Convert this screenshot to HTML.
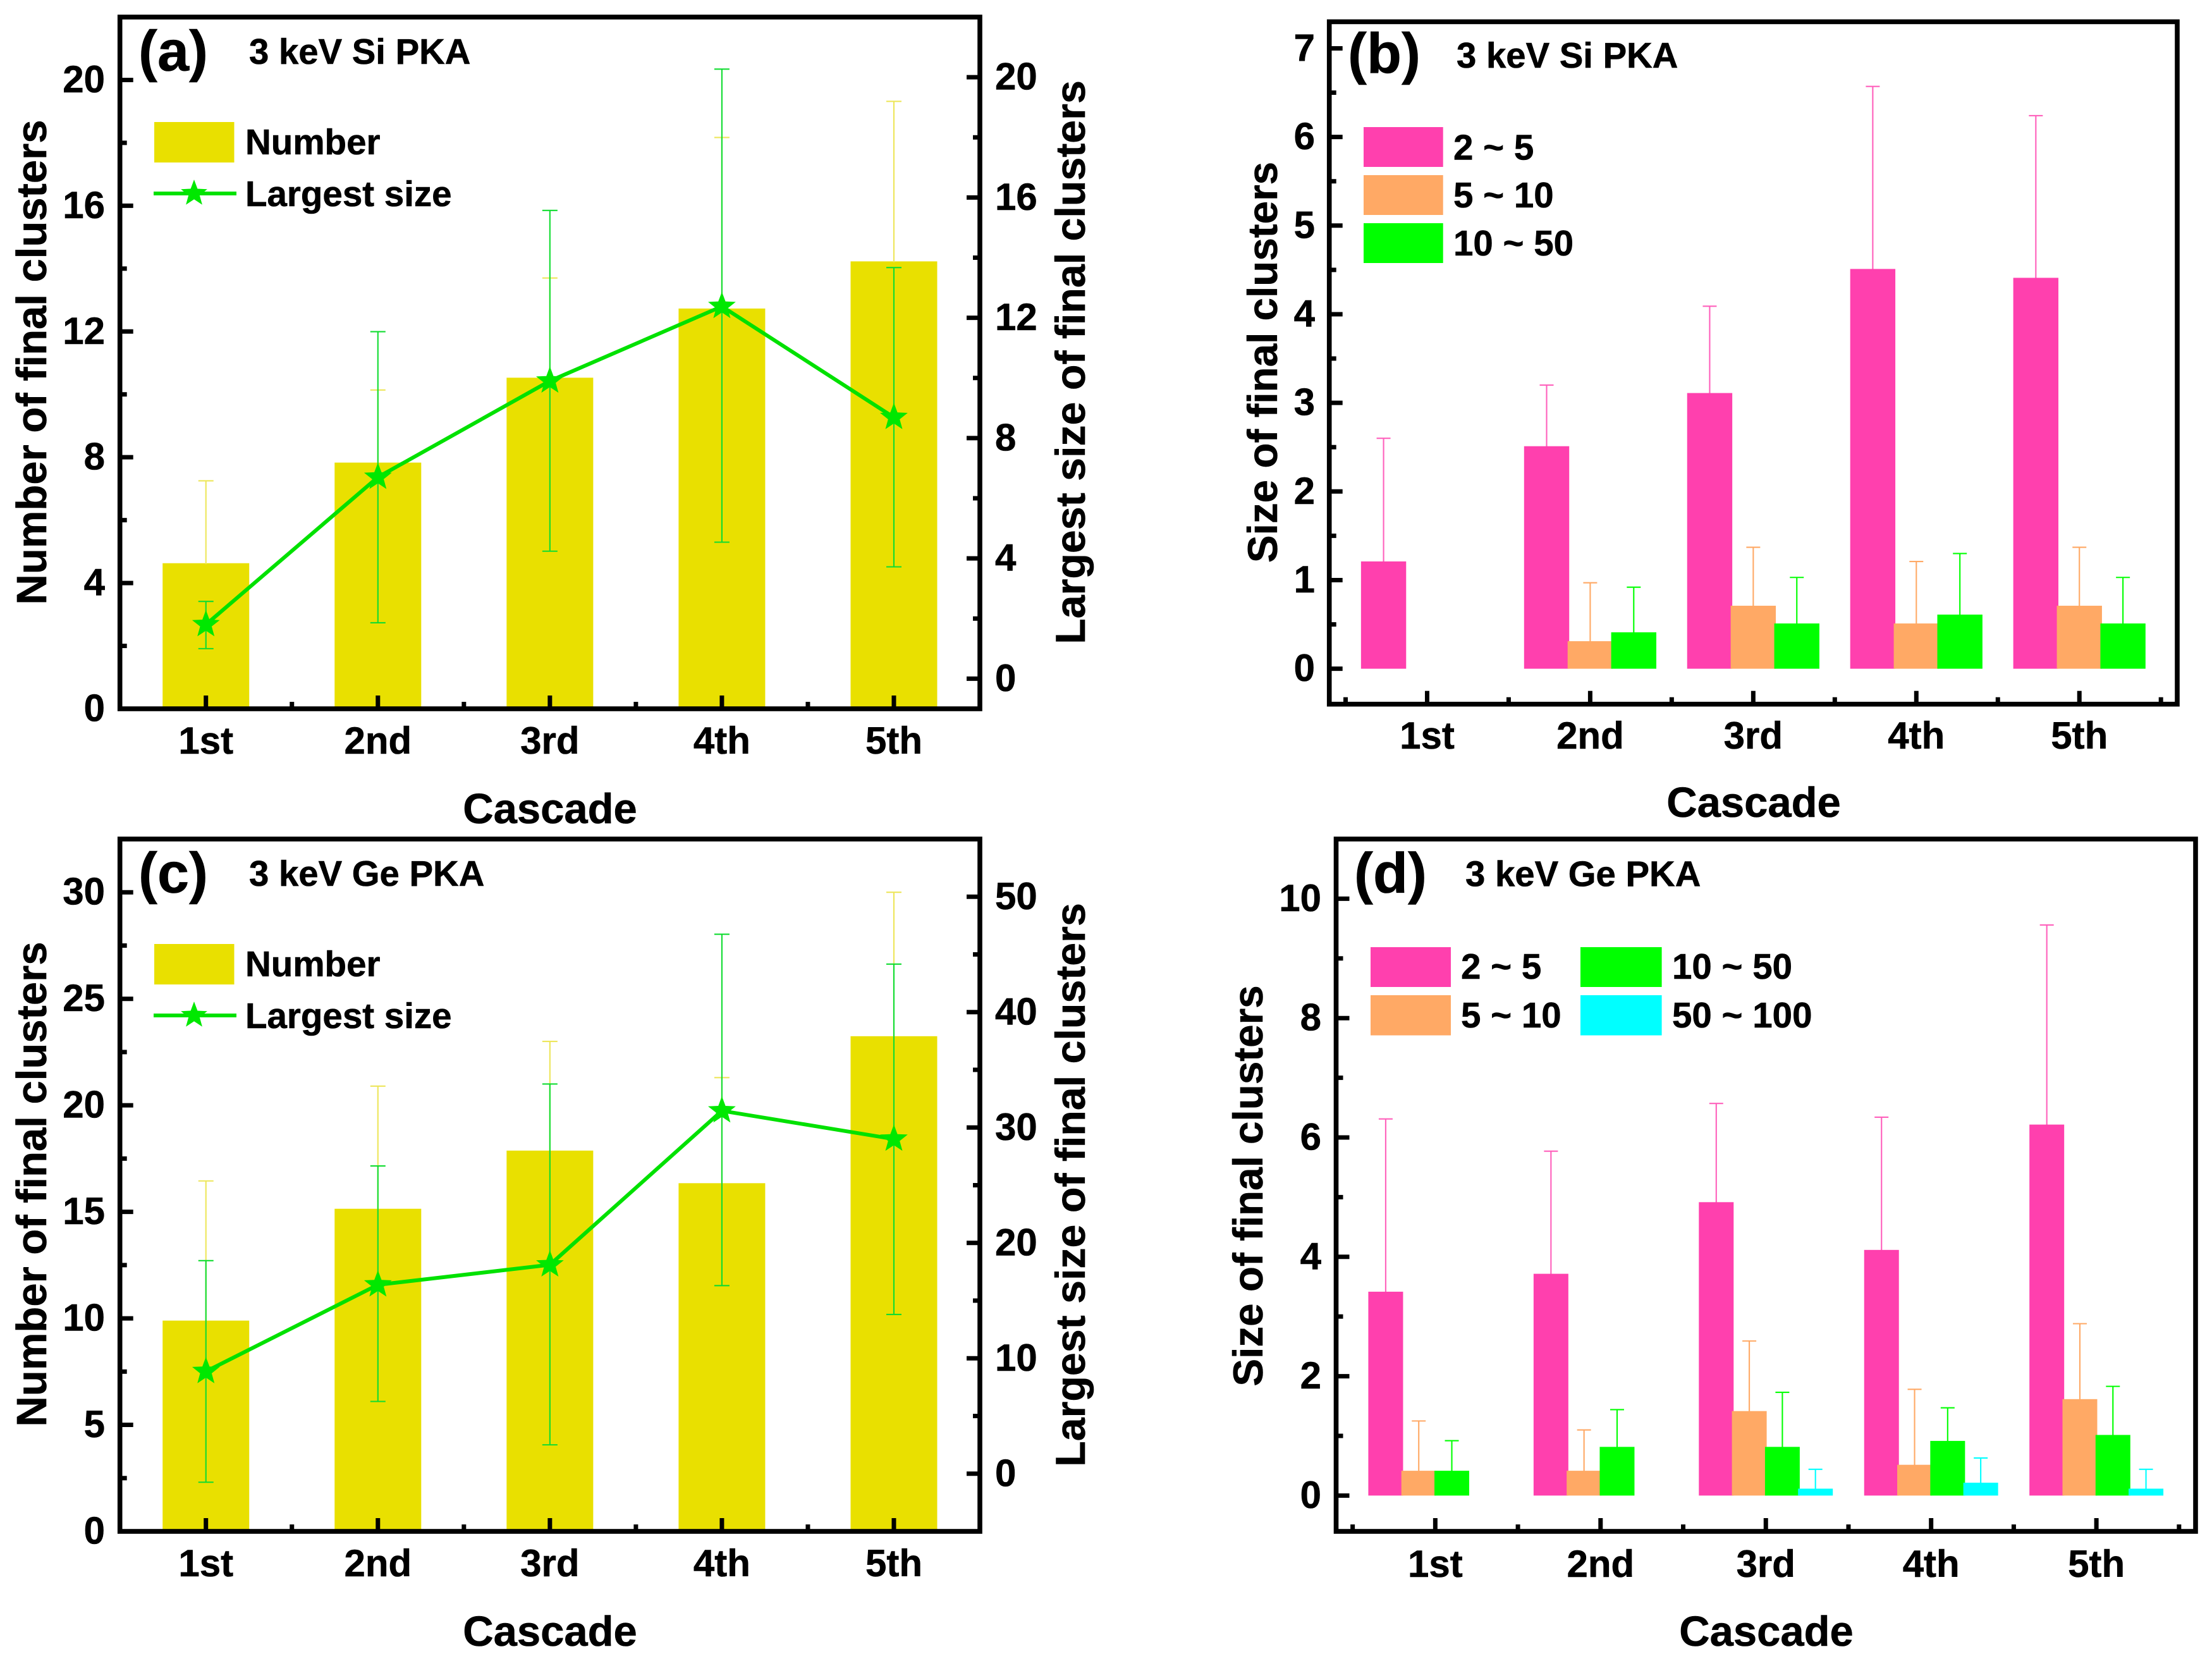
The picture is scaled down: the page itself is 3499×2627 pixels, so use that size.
<!DOCTYPE html>
<html lang="en">
<head>
<meta charset="utf-8">
<title>Final cluster statistics for 3 keV Si and Ge PKA cascades</title>
<style>
  html, body { margin: 0; padding: 0; background: #ffffff; }
  svg { display: block; }
  text { font-family: "Liberation Sans", Arial, sans-serif; font-weight: bold; fill: #000000; stroke: #000000; stroke-width: 0.6px; }
  .tick { font-size: 60px; }
  .axt { font-size: 67px; }
  .axr { font-size: 66.3px; }
  .axs { font-size: 65.6px; }
  .leg { font-size: 56.5px; }
  .pl { font-size: 90px; }
  .sub { font-size: 56.3px; }
</style>
</head>
<body>
<svg id="fig" xmlns="http://www.w3.org/2000/svg" width="3499" height="2627" viewBox="0 0 3499 2627">
  <rect x="0" y="0" width="3499" height="2627" fill="#ffffff"/>

  <g id="panel-a">
    <g id="a-marks"></g>
    <rect x="189.7" y="27" width="1360.3" height="1094" fill="none" stroke="#000" stroke-width="7.6"/>
    <text class="pl" x="219" y="111.5">(a)</text>
    <text class="sub" x="394" y="101">3 keV Si PKA</text>
    <text class="axt" text-anchor="middle" transform="translate(73 573) rotate(-90)">Number of final clusters</text>
    <text class="axr" text-anchor="middle" transform="translate(1716 573) rotate(-90)">Largest size of final clusters</text>
    <text class="axt" text-anchor="middle" x="870" y="1302">Cascade</text>
    <rect x="244" y="193" width="126.5" height="64" fill="#E9E000"/>
    <text class="leg" x="388" y="244">Number</text>
    <line x1="243" y1="306" x2="374" y2="306" stroke="#00E100" stroke-width="6"/>
    <text class="leg" x="388" y="326">Largest size</text>
  </g>

  <g id="panel-b">
    <g id="b-marks"></g>
    <rect x="2102.7" y="34.4" width="1341.3" height="1079.3" fill="none" stroke="#000" stroke-width="7.6"/>
    <text class="pl" x="2132" y="115.5">(b)</text>
    <text class="sub" x="2304" y="107">3 keV Si PKA</text>
    <text class="axs" text-anchor="middle" transform="translate(2020 573) rotate(-90)">Size of final clusters</text>
    <text class="axt" text-anchor="middle" x="2774" y="1292">Cascade</text>
    <rect x="2157" y="201" width="125.7" height="63" fill="#FF40AE"/>
    <text class="leg" x="2299" y="252.5">2 ~ 5</text>
    <rect x="2157" y="277" width="125.7" height="63" fill="#FFA965"/>
    <text class="leg" x="2299" y="328">5 ~ 10</text>
    <rect x="2157" y="353" width="125.7" height="63" fill="#00FF00"/>
    <text class="leg" x="2299" y="404">10 ~ 50</text>
  </g>

  <g id="panel-c">
    <g id="c-marks"></g>
    <rect x="189.7" y="1327" width="1360.3" height="1095" fill="none" stroke="#000" stroke-width="7.6"/>
    <text class="pl" x="219" y="1411.5">(c)</text>
    <text class="sub" x="394" y="1401">3 keV Ge PKA</text>
    <text class="axt" text-anchor="middle" transform="translate(73 1873) rotate(-90)">Number of final clusters</text>
    <text class="axr" text-anchor="middle" transform="translate(1716 1874) rotate(-90)">Largest size of final clusters</text>
    <text class="axt" text-anchor="middle" x="870" y="2603">Cascade</text>
    <rect x="244" y="1493" width="126.5" height="64" fill="#E9E000"/>
    <text class="leg" x="388" y="1544">Number</text>
    <line x1="243" y1="1606" x2="374" y2="1606" stroke="#00E100" stroke-width="6"/>
    <text class="leg" x="388" y="1626">Largest size</text>
  </g>

  <g id="panel-d">
    <g id="d-marks"></g>
    <rect x="2113.5" y="1327" width="1359.5" height="1095" fill="none" stroke="#000" stroke-width="7.6"/>
    <text class="pl" x="2142" y="1412">(d)</text>
    <text class="sub" x="2318" y="1401.5">3 keV Ge PKA</text>
    <text class="axs" text-anchor="middle" transform="translate(1997 1875.5) rotate(-90)">Size of final clusters</text>
    <text class="axt" text-anchor="middle" x="2794" y="2603">Cascade</text>
    <rect x="2168" y="1498" width="127" height="63" fill="#FF40AE"/>
    <text class="leg" x="2311" y="1548">2 ~ 5</text>
    <rect x="2168" y="1574" width="127" height="63.5" fill="#FFA965"/>
    <text class="leg" x="2311" y="1625">5 ~ 10</text>
    <rect x="2500" y="1498" width="128.6" height="63" fill="#00FF00"/>
    <text class="leg" x="2645" y="1548">10 ~ 50</text>
    <rect x="2500" y="1574" width="128.6" height="63.5" fill="#00FFFF"/>
    <text class="leg" x="2645" y="1625">50 ~ 100</text>
  </g>
</svg>

<script>
// ---- data ----
const categories = ['1st', '2nd', '3rd', '4th', '5th'];

// Panel (a)
const aNumber = [4.6, 7.8, 10.5, 12.7, 14.2];
const aNumberErrTop = [7.25, 10.14, 13.7, 18.17, 19.32];
const aLargest = [1.8, 6.7, 9.9, 12.38, 8.69];
const aLargestHi = [2.57, 11.54, 15.57, 20.27, 13.67];
const aLargestLo = [1.0, 1.86, 4.24, 4.54, 3.72];
const aLeftTicks = [0, 4, 8, 12, 16, 20];
const aLeftMinor = [2, 6, 10, 14, 18];
const aRightTicks = [0, 4, 8, 12, 16, 20];
const aRightMinor = [2, 6, 10, 14, 18];

// Panel (b)
const bPink = [1.2, 2.5, 3.1, 4.5, 4.4];
const bPinkErr = [2.6, 3.2, 4.09, 6.57, 6.24];
const bOrange = [0, 0.3, 0.7, 0.5, 0.7];
const bOrangeErr = [0, 0.97, 1.37, 1.21, 1.37];
const bGreen = [0, 0.4, 0.5, 0.6, 0.5];
const bGreenErr = [0, 0.92, 1.03, 1.3, 1.03];
const bTicks = [0, 1, 2, 3, 4, 5, 6, 7];
const bMinor = [0.5, 1.5, 2.5, 3.5, 4.5, 5.5, 6.5];

// Panel (c)
const cNumber = [9.85, 15.1, 17.83, 16.3, 23.2];
const cNumberErrTop = [16.45, 20.9, 23, 21.3, 30];
const cLargest = [8.86, 16.37, 18.1, 31.45, 29];
const cLargestHi = [18.46, 26.67, 33.77, 46.75, 44.16];
const cLargestLo = [-0.74, 6.26, 2.5, 16.3, 13.8];
const cLeftTicks = [0, 5, 10, 15, 20, 25, 30];
const cLeftMinor = [2.5, 7.5, 12.5, 17.5, 22.5, 27.5];
const cRightTicks = [0, 10, 20, 30, 40, 50];
const cRightMinor = [5, 15, 25, 35, 45];

// Panel (d)
const dPink = [3.4, 3.7, 4.9, 4.1, 6.2];
const dPinkErr = [6.31, 5.77, 6.57, 6.34, 9.56];
const dOrange = [0.4, 0.4, 1.4, 0.5, 1.6];
const dOrangeErr = [1.25, 1.1, 2.59, 1.78, 2.88];
const dGreen = [0.4, 0.8, 0.8, 0.9, 1.0];
const dGreenErr = [0.92, 1.44, 1.73, 1.47, 1.83];
const dCyan = [0, 0, 0.1, 0.2, 0.1];
const dCyanErr = [0, 0, 0.44, 0.63, 0.44];
const dTicks = [0, 2, 4, 6, 8, 10];
const dMinor = [1, 3, 5, 7, 9];

// ---- helpers ----
const NS = 'http://www.w3.org/2000/svg';
const YELLOW = '#E9E000', LINE_GREEN = '#00E100', STAR_GREEN = '#00E800';
const PINK = '#FF40AE', ORANGE = '#FFA965', GREEN = '#00FF00', CYAN = '#00FFFF';
const ERR_W = 2.1;
const BAR_TOP_BLEED = 1.5;
const LABEL_DROP = 19.5;

function linear(d0, d1, p0, p1) {
  return function (v) { return p0 + (v - d0) * (p1 - p0) / (d1 - d0); };
}
function mk(parent, tag, props, name) {
  const el = document.createElementNS(NS, tag);
  for (const k in props) el.setAttribute(k, props[k]);
  
  
  parent.appendChild(el);
  return el;
}
function rule(parent, x1, y1, x2, y2, color, w, name) {
  return mk(parent, 'line', { x1: x1, y1: y1, x2: x2, y2: y2, stroke: color, 'stroke-width': w }, name);
}
function label(parent, x, y, str, anchor, name) {
  const t = mk(parent, 'text', { x: x, y: y, 'text-anchor': anchor, class: 'tick' }, name);
  t.textContent = str;
  return t;
}
function star(parent, cx, cy, r, name) {
  const pts = [];
  for (let i = 0; i < 10; i++) {
    const rad = i % 2 === 0 ? r : r * 0.42;
    const a = -Math.PI / 2 + i * Math.PI / 5;
    pts.push((cx + rad * Math.cos(a)).toFixed(1) + ',' + (cy + rad * Math.sin(a)).toFixed(1));
  }
  return mk(parent, 'polygon', { points: pts.join(' '), fill: STAR_GREEN }, name);
}
function xTicks(g, x, geo, minorVals, key) {
  categories.forEach(function (c, i) {
    rule(g, x(i + 1), geo.bottom, x(i + 1), geo.bottom - 21, '#000', 7, key + '-x-tick-' + c);
    label(g, x(i + 1), geo.tickBase, c, 'middle', key + '-x-tick-label-' + c);
  });
  minorVals.forEach(function (v) {
    rule(g, x(v), geo.bottom, x(v), geo.bottom - 11, '#000', 7, key + '-x-minor-tick');
  });
}
function leftTicks(g, y, geo, major, minor, key) {
  major.forEach(function (v) {
    rule(g, geo.left, y(v), geo.left + 21, y(v), '#000', 7, key + '-y-tick-' + v);
    label(g, geo.labelRight, y(v) + LABEL_DROP, String(v), 'end', key + '-y-tick-label-' + v);
  });
  minor.forEach(function (v) {
    rule(g, geo.left, y(v), geo.left + 11, y(v), '#000', 7, key + '-y-minor-tick');
  });
}
function rightTicks(g, y, geo, major, minor, key) {
  major.forEach(function (v) {
    rule(g, geo.right, y(v), geo.right - 21, y(v), '#000', 7, key + '-right-tick-' + v);
    label(g, geo.right + 24, y(v) + LABEL_DROP, String(v), 'start', key + '-right-tick-label-' + v);
  });
  minor.forEach(function (v) {
    rule(g, geo.right, y(v), geo.right - 11, y(v), '#000', 7, key + '-right-minor-tick');
  });
}
function cap(g, cx, yy, half, color, w, name) {
  rule(g, cx - half, yy, cx + half, yy, color, w, name);
}

// Bars + line chart panels (a, c)
function comboPanel(key, geo, yL, yR, nums, numTop, line, hi, lo, lTicks, lMinor, rTicks, rMinor) {
  const g = document.getElementById(key + '-marks');
  const x = linear(0.5, 5.5, geo.left, geo.right);
  const barW = 137;
  nums.forEach(function (v, i) {
    mk(g, 'rect', { x: x(i + 1) - barW / 2, y: yL(v) - BAR_TOP_BLEED, width: barW, height: yL(0) - yL(v) + BAR_TOP_BLEED, fill: YELLOW }, key + '-bar-' + categories[i]);
  });
  numTop.forEach(function (v, i) {
    rule(g, x(i + 1), yL(nums[i]), x(i + 1), yL(v), '#EDE65A', ERR_W, key + '-bar-error-' + categories[i]);
    cap(g, x(i + 1), yL(v), 12, '#EDE65A', ERR_W, key + '-bar-error-cap-' + categories[i]);
  });
  xTicks(g, x, geo, [1.5, 2.5, 3.5, 4.5], key);
  leftTicks(g, yL, geo, lTicks, lMinor, key);
  rightTicks(g, yR, geo, rTicks, rMinor, key);
  line.forEach(function (v, i) {
    rule(g, x(i + 1), yR(hi[i]), x(i + 1), yR(lo[i]), '#10DC30', ERR_W, key + '-line-error-' + categories[i]);
    cap(g, x(i + 1), yR(hi[i]), 12, '#10DC30', ERR_W, key + '-line-error-cap-high-' + categories[i]);
    cap(g, x(i + 1), yR(lo[i]), 12, '#10DC30', ERR_W, key + '-line-error-cap-low-' + categories[i]);
  });
  const pts = line.map(function (v, i) { return x(i + 1).toFixed(1) + ',' + yR(v).toFixed(1); }).join(' ');
  mk(g, 'polyline', { points: pts, fill: 'none', stroke: LINE_GREEN, 'stroke-width': 6 }, key + '-largest-size-line');
  line.forEach(function (v, i) {
    star(g, x(i + 1), yR(v), 23, key + '-largest-size-point-' + categories[i]);
  });
}

// Grouped bar panels (b, d)
function groupPanel(key, geo, y, series, spacing, barW, ticks, minor) {
  const g = document.getElementById(key + '-marks');
  const x = linear(0.4, 5.6, geo.left, geo.right);
  const n = series.length;
  series.forEach(function (s, si) {
    s.vals.forEach(function (v, i) {
      if (v === 0) return;
      const cx = x(i + 1) + (si - (n - 1) / 2) * spacing;
      rule(g, cx, y(v), cx, y(s.errs[i]), s.err, ERR_W, key + '-error-' + s.name + '-' + categories[i]);
      cap(g, cx, y(s.errs[i]), 11, s.err, ERR_W, key + '-error-cap-' + s.name + '-' + categories[i]);
    });
  });
  series.forEach(function (s, si) {
    s.vals.forEach(function (v, i) {
      if (v === 0) return;
      const cx = x(i + 1) + (si - (n - 1) / 2) * spacing;
      mk(g, 'rect', { x: cx - barW / 2, y: y(v) - BAR_TOP_BLEED, width: barW, height: y(0) - y(v) + BAR_TOP_BLEED, fill: s.fill }, key + '-bar-' + s.name + '-' + categories[i]);
    });
  });
  xTicks(g, x, geo, [0.5, 1.5, 2.5, 3.5, 4.5, 5.5], key);
  leftTicks(g, y, geo, ticks, minor, key);
}

// ---- build ----
comboPanel('a',
  { left: 189.7, right: 1550, bottom: 1121, tickBase: 1192, labelRight: 166 },
  linear(0, 22, 1121, 27), linear(-1, 22, 1121, 27),
  aNumber, aNumberErrTop, aLargest, aLargestHi, aLargestLo,
  aLeftTicks, aLeftMinor, aRightTicks, aRightMinor);

comboPanel('c',
  { left: 189.7, right: 1550, bottom: 2422, tickBase: 2493, labelRight: 166 },
  linear(0, 32.5, 2422, 1327), linear(-5, 55, 2422, 1327),
  cNumber, cNumberErrTop, cLargest, cLargestHi, cLargestLo,
  cLeftTicks, cLeftMinor, cRightTicks, cRightMinor);

groupPanel('b',
  { left: 2102.7, right: 3444, bottom: 1113.7, tickBase: 1184, labelRight: 2080 },
  linear(-0.4, 7.3, 1113.7, 34.4),
  [
    { name: '2-5', vals: bPink, errs: bPinkErr, fill: PINK, err: '#FF60BC' },
    { name: '5-10', vals: bOrange, errs: bOrangeErr, fill: ORANGE, err: ORANGE },
    { name: '10-50', vals: bGreen, errs: bGreenErr, fill: GREEN, err: GREEN }
  ], 68.9, 71.4, bTicks, bMinor);

groupPanel('d',
  { left: 2113.5, right: 3473, bottom: 2422, tickBase: 2494, labelRight: 2090 },
  linear(-0.6, 11, 2422, 1327),
  [
    { name: '2-5', vals: dPink, errs: dPinkErr, fill: PINK, err: '#FF60BC' },
    { name: '5-10', vals: dOrange, errs: dOrangeErr, fill: ORANGE, err: ORANGE },
    { name: '10-50', vals: dGreen, errs: dGreenErr, fill: GREEN, err: GREEN },
    { name: '50-100', vals: dCyan, errs: dCyanErr, fill: CYAN, err: CYAN }
  ], 52.3, 55, dTicks, dMinor);

star(document.getElementById('panel-a'), 307, 306, 22, 'legend-star-largest-size');
star(document.getElementById('panel-c'), 307, 1606, 22, 'legend-star-largest-size-c');
</script>
</body>
</html>
